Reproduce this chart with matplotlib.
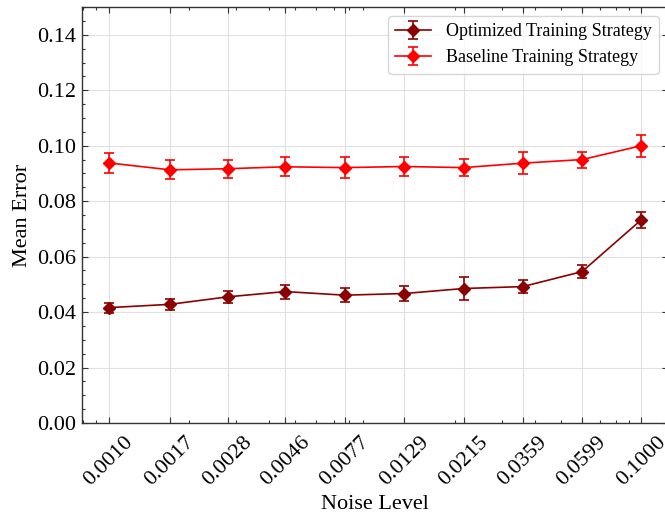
import matplotlib
matplotlib.use('Agg')
import matplotlib.pyplot as plt
from matplotlib.ticker import AutoMinorLocator, LogLocator, NullFormatter

plt.rcParams['font.family'] = ['Liberation Serif', 'DejaVu Serif']
plt.rcParams['mathtext.fontset'] = 'stix'

# noise levels (log spaced) and their labels
noise_levels = [0.0010, 0.0017, 0.0028, 0.0046, 0.0077, 0.0129, 0.0215, 0.0359, 0.0599, 0.1000]
tick_labels = ['0.0010', '0.0017', '0.0028', '0.0046', '0.0077',
               '0.0129', '0.0215', '0.0359', '0.0599', '0.1000']

# optimized strategy
opt_mean = [0.0416, 0.0428, 0.0455, 0.0474, 0.0461, 0.0467, 0.0485, 0.0492, 0.0546, 0.0733]
opt_err = [0.0018, 0.0020, 0.0021, 0.0025, 0.0025, 0.0026, 0.0041, 0.0024, 0.0024, 0.0029]

# baseline strategy
base_mean = [0.0938, 0.0913, 0.0917, 0.0924, 0.0921, 0.0925, 0.0921, 0.0937, 0.0950, 0.1000]
base_err = [0.0037, 0.0034, 0.0032, 0.0034, 0.0039, 0.0034, 0.0032, 0.0039, 0.0029, 0.0040]

fig = plt.figure(figsize=(6.65, 5.14), dpi=100)
ax = fig.add_axes([0.1233, 0.177, 0.8812, 0.8093])

ax.errorbar(noise_levels, opt_mean, yerr=opt_err, color='#8B0000', marker='D', markersize=6.5,
            linewidth=1.2, elinewidth=1.2, capsize=3.5, capthick=1.2,
            label='Optimized Training Strategy', zorder=3)
ax.errorbar(noise_levels, base_mean, yerr=base_err, color='#FF0000', marker='D', markersize=6.5,
            linewidth=1.2, elinewidth=1.2, capsize=3.5, capthick=1.2,
            label='Baseline Training Strategy', zorder=3)

ax.set_xscale('log')
ax.set_xticks(noise_levels)
ax.set_xticklabels(tick_labels, rotation=45)
ax.xaxis.set_minor_locator(LogLocator(base=10, subs=range(2, 10)))
ax.xaxis.set_minor_formatter(NullFormatter())

ax.set_ylim(0, 0.15)
ax.set_yticks([0.00, 0.02, 0.04, 0.06, 0.08, 0.10, 0.12, 0.14])
ax.yaxis.set_minor_locator(AutoMinorLocator(4))
ax.yaxis.set_major_formatter(matplotlib.ticker.FormatStrFormatter('%.2f'))

ax.tick_params(which='both', direction='in', top=True, right=True, width=0.8, color='#333333')
ax.tick_params(which='major', length=4, labelsize=16)
ax.tick_params(which='minor', length=2)
ax.tick_params(axis='x', which='major', pad=7)
ax.tick_params(axis='y', which='major', pad=4)

for s in ax.spines.values():
    s.set_linewidth(1.0)
    s.set_color('#333333')

ax.grid(True, which='major', color='#e0e0e0', linewidth=0.8)
ax.set_axisbelow(True)

ax.set_xlabel('Noise Level', fontsize=16, labelpad=4)
ax.set_ylabel('Mean Error', fontsize=16)
ax.legend(loc='upper right', fontsize=13)

fig.savefig('out.png', dpi=100)
